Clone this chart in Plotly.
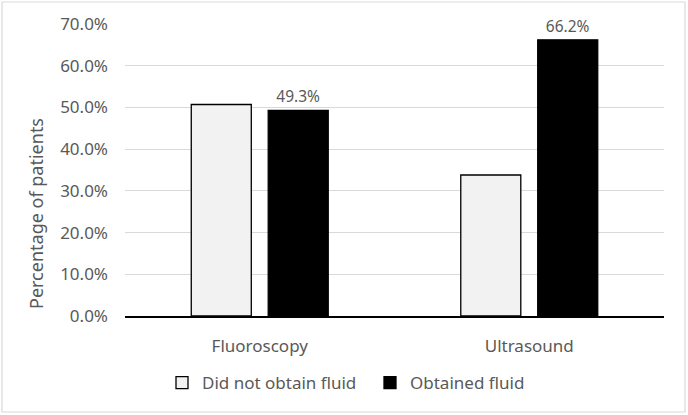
import plotly.graph_objects as go

categories = ["Fluoroscopy", "Ultrasound"]
did_not_obtain = [50.7, 33.8]
obtained = [49.3, 66.2]
y_ticks = [0, 10, 20, 30, 40, 50, 60, 70]
y_tick_text = [f"{v:.1f}%" for v in y_ticks]

W, H = 688, 415
L, R, T, B = 125, 24, 24, 99
FONT = "Noto Sans"
GREY = "#595959"

fig = go.Figure()
fig.add_trace(go.Bar(x=categories, y=did_not_obtain, name="Did not obtain fluid",
                     marker=dict(color="#f2f2f2", line=dict(color="black", width=1.3))))
fig.add_trace(go.Bar(x=categories, y=obtained, name="Obtained fluid",
                     marker=dict(color="black", line=dict(color="black", width=1.3)),
                     text=[f"{v:.1f}%" for v in obtained], textposition="outside",
                     textfont=dict(color=GREY, size=15.5, family=FONT), cliponaxis=False))

# outer chart border, pixel box -> paper coords
pw, ph = W - L - R, H - T - B
fig.add_shape(type="rect", xref="paper", yref="paper",
              x0=(2 - L) / pw, x1=(685 - L) / pw,
              y0=(H - B - 412) / ph, y1=(H - B - 2) / ph,
              line=dict(color="#d9d9d9", width=1.2), layer="below")

fig.add_annotation(text="Percentage of patients", xref="paper", yref="paper",
                   x=(36 - L) / pw, y=(H - B - 214) / ph, textangle=-90, showarrow=False,
                   xanchor="center", yanchor="middle",
                   font=dict(size=18, color=GREY, family=FONT))

fig.update_layout(
    width=W, height=H, margin=dict(l=L, r=R, t=T, b=B, autoexpand=False),
    paper_bgcolor="white", plot_bgcolor="white",
    bargap=0.429, bargroupgap=0.22,
    font=dict(family=FONT, color=GREY, size=17),
    legend=dict(orientation="h", xref="paper", yref="paper", x=(162 - L) / pw, xanchor="left",
                y=(H - B - 383) / ph, yanchor="middle", font=dict(size=17, color=GREY),
                itemwidth=30, entrywidth=163),
    yaxis=dict(range=[0, 70], tickvals=y_ticks, ticktext=y_tick_text, automargin=False,
               showgrid=True, gridcolor="#d9d9d9", gridwidth=1.2, zeroline=False,
               ticks="", ticklabelstandoff=16, tickfont=dict(size=17, color=GREY)),
    xaxis=dict(showline=True, linecolor="black", linewidth=1.5, ticks="", automargin=False,
               ticklabelstandoff=14, tickfont=dict(size=17, color=GREY)),
)

fig.write_html("out.html", config={"displayModeBar": False},
               post_script="document.body.style.margin='0';")
